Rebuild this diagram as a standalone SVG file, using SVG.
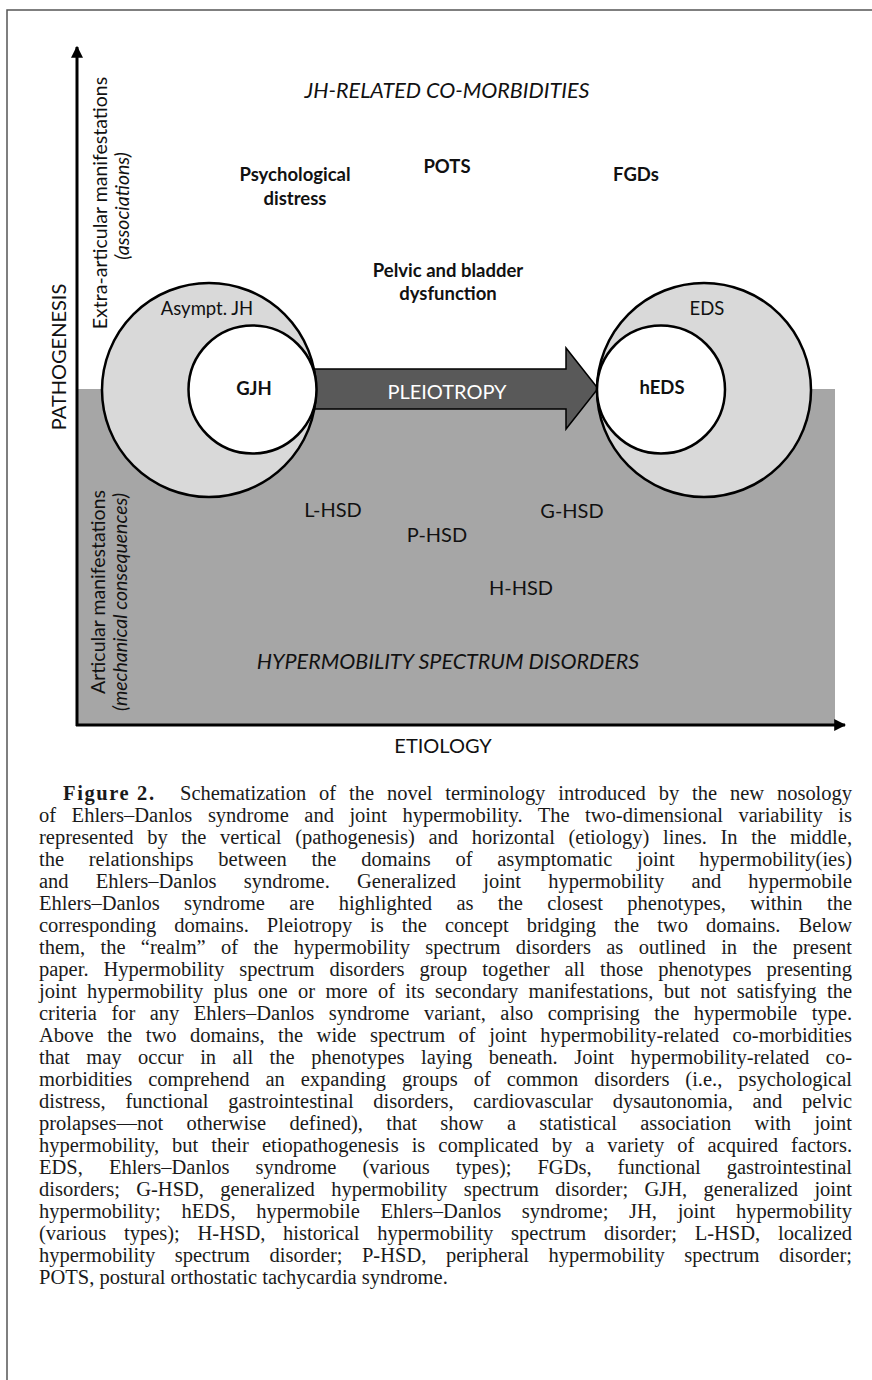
<svg xmlns="http://www.w3.org/2000/svg" width="872" height="1380" viewBox="0 0 872 1380">
<style>
.sans{font-family:Lato,"Open Sans","Liberation Sans",sans-serif;fill:#111}
.b{font-weight:bold}
.it{font-style:italic}
.cap{font-family:"Liberation Serif","Times New Roman",serif;font-size:20.5px;fill:#1a1a1a}
.outer{fill:#d9d9d9;stroke:#000;stroke-width:2.5}
.inner{fill:#fff;stroke:#000;stroke-width:2.5}
.axis{stroke:#000;stroke-width:3;fill:none}
</style>
<defs>
<marker id="ah" viewBox="0 0 10 10" refX="9" refY="5" markerWidth="4" markerHeight="4" orient="auto" markerUnits="strokeWidth">
<path d="M0,0 L10,5 L0,10 Z" fill="#000"/>
</marker>
</defs>
<rect x="7" y="10" width="900" height="1400" fill="#fff" stroke="#555" stroke-width="1.5"/>
<g id="hsd-area">
<rect x="77" y="389" width="758" height="336" fill="#a6a6a6"/>
</g>
<g id="connectors">
<path d="M300,369 L566,369 L566,348 L598,388.5 L566,429 L566,409 L300,409 Z" fill="#595959" stroke="#000" stroke-width="1.5"/>
<line class="axis" x1="77" y1="726" x2="77" y2="47" marker-end="url(#ah)"/>
<line class="axis" x1="76" y1="725" x2="845" y2="725" marker-end="url(#ah)"/>
</g>
<g id="pleiotropy-label">
<text class="sans" x="447" y="399" font-size="20" text-anchor="middle" style="fill:#fff">PLEIOTROPY</text>
</g>
<g id="asympt-jh">
<circle class="outer" cx="209" cy="390" r="107"/>
<text class="sans" x="207" y="315" font-size="18.5" text-anchor="middle">Asympt. JH</text>
</g>
<g id="gjh">
<circle class="inner" cx="252.5" cy="389.5" r="64"/>
<text class="sans b" x="254" y="395" font-size="18.5" text-anchor="middle">GJH</text>
</g>
<g id="eds">
<circle class="outer" cx="704" cy="390" r="107"/>
<text class="sans" x="707" y="315" font-size="18.5" text-anchor="middle">EDS</text>
</g>
<g id="heds">
<circle class="inner" cx="661" cy="389.5" r="64"/>
<text class="sans b" x="662" y="394" font-size="18.5" text-anchor="middle">hEDS</text>
</g>
<g id="comorbidities">
<text class="sans it" x="447" y="98" font-size="21.5" text-anchor="middle">JH-RELATED CO-MORBIDITIES</text>
<text class="sans b" x="295" y="181" font-size="18.5" text-anchor="middle">Psychological</text>
<text class="sans b" x="295" y="205" font-size="18.5" text-anchor="middle">distress</text>
<text class="sans b" x="447" y="173" font-size="18.5" text-anchor="middle">POTS</text>
<text class="sans b" x="636" y="181" font-size="18.5" text-anchor="middle">FGDs</text>
<text class="sans b" x="448" y="277" font-size="18.5" text-anchor="middle">Pelvic and bladder</text>
<text class="sans b" x="448" y="300" font-size="18.5" text-anchor="middle">dysfunction</text>
</g>
<g id="hsd-labels">
<text class="sans" x="333" y="517" font-size="20" text-anchor="middle">L-HSD</text>
<text class="sans" x="572" y="518" font-size="20" text-anchor="middle">G-HSD</text>
<text class="sans" x="437" y="542" font-size="20" text-anchor="middle">P-HSD</text>
<text class="sans" x="521" y="595" font-size="20" text-anchor="middle">H-HSD</text>
<text class="sans it" x="448" y="669" font-size="21.5" text-anchor="middle">HYPERMOBILITY SPECTRUM DISORDERS</text>
</g>
<g id="axis-labels">
<text class="sans" x="443" y="753" font-size="20" text-anchor="middle">ETIOLOGY</text>
<text class="sans" transform="translate(66,357) rotate(-90)" font-size="20" text-anchor="middle">PATHOGENESIS</text>
<text class="sans" transform="translate(107,203) rotate(-90)" font-size="19.5" text-anchor="middle">Extra-articular manifestations</text>
<text class="sans it" transform="translate(129,206) rotate(-90)" font-size="19.5" text-anchor="middle">(associations)</text>
<text class="sans" transform="translate(105,592) rotate(-90)" font-size="19.5" text-anchor="middle">Articular manifestations</text>
<text class="sans it" transform="translate(127,602) rotate(-90)" font-size="19.5" text-anchor="middle">(mechanical consequences)</text>
</g>
<g id="caption">
<text class="cap" x="63" y="800" font-weight="bold" font-size="23" textLength="91" lengthAdjust="spacing">Figure 2.</text>
<text class="cap" x="180" y="800" word-spacing="7.8" textLength="672" lengthAdjust="spacing">Schematization of the novel terminology introduced by the new nosology</text>
<text class="cap" x="39" y="822" word-spacing="10.4" textLength="813" lengthAdjust="spacing">of Ehlers–Danlos syndrome and joint hypermobility. The two-dimensional variability is</text>
<text class="cap" x="39" y="844" word-spacing="8.5" textLength="813" lengthAdjust="spacing">represented by the vertical (pathogenesis) and horizontal (etiology) lines. In the middle,</text>
<text class="cap" x="39" y="866" word-spacing="19.6" textLength="813" lengthAdjust="spacing">the relationships between the domains of asymptomatic joint hypermobility(ies)</text>
<text class="cap" x="39" y="888" word-spacing="22.1" textLength="813" lengthAdjust="spacing">and Ehlers–Danlos syndrome. Generalized joint hypermobility and hypermobile</text>
<text class="cap" x="39" y="910" word-spacing="19.2" textLength="813" lengthAdjust="spacing">Ehlers–Danlos syndrome are highlighted as the closest phenotypes, within the</text>
<text class="cap" x="39" y="932" word-spacing="12.9" textLength="813" lengthAdjust="spacing">corresponding domains. Pleiotropy is the concept bridging the two domains. Below</text>
<text class="cap" x="39" y="954" word-spacing="10.2" textLength="813" lengthAdjust="spacing">them, the “realm” of the hypermobility spectrum disorders as outlined in the present</text>
<text class="cap" x="39" y="976" word-spacing="9.8" textLength="813" lengthAdjust="spacing">paper. Hypermobility spectrum disorders group together all those phenotypes presenting</text>
<text class="cap" x="39" y="998" word-spacing="5.2" textLength="813" lengthAdjust="spacing">joint hypermobility plus one or more of its secondary manifestations, but not satisfying the</text>
<text class="cap" x="39" y="1020" word-spacing="9.4" textLength="813" lengthAdjust="spacing">criteria for any Ehlers–Danlos syndrome variant, also comprising the hypermobile type.</text>
<text class="cap" x="39" y="1042" word-spacing="8.4" textLength="813" lengthAdjust="spacing">Above the two domains, the wide spectrum of joint hypermobility-related co-morbidities</text>
<text class="cap" x="39" y="1064" word-spacing="11.4" textLength="813" lengthAdjust="spacing">that may occur in all the phenotypes laying beneath. Joint hypermobility-related co-</text>
<text class="cap" x="39" y="1086" word-spacing="10.8" textLength="813" lengthAdjust="spacing">morbidities comprehend an expanding groups of common disorders (i.e., psychological</text>
<text class="cap" x="39" y="1108" word-spacing="14.6" textLength="813" lengthAdjust="spacing">distress, functional gastrointestinal disorders, cardiovascular dysautonomia, and pelvic</text>
<text class="cap" x="39" y="1130" word-spacing="18.2" textLength="813" lengthAdjust="spacing">prolapses—not otherwise defined), that show a statistical association with joint</text>
<text class="cap" x="39" y="1152" word-spacing="7.9" textLength="813" lengthAdjust="spacing">hypermobility, but their etiopathogenesis is complicated by a variety of acquired factors.</text>
<text class="cap" x="39" y="1174" word-spacing="20.9" textLength="813" lengthAdjust="spacing">EDS, Ehlers–Danlos syndrome (various types); FGDs, functional gastrointestinal</text>
<text class="cap" x="39" y="1196" word-spacing="11.25" textLength="813" lengthAdjust="spacing">disorders; G-HSD, generalized hypermobility spectrum disorder; GJH, generalized joint</text>
<text class="cap" x="39" y="1218" word-spacing="15.6" textLength="813" lengthAdjust="spacing">hypermobility; hEDS, hypermobile Ehlers–Danlos syndrome; JH, joint hypermobility</text>
<text class="cap" x="39" y="1240" word-spacing="12.6" textLength="813" lengthAdjust="spacing">(various types); H-HSD, historical hypermobility spectrum disorder; L-HSD, localized</text>
<text class="cap" x="39" y="1262" word-spacing="14.4" textLength="813" lengthAdjust="spacing">hypermobility spectrum disorder; P-HSD, peripheral hypermobility spectrum disorder;</text>
<text class="cap" x="39" y="1284">POTS, postural orthostatic tachycardia syndrome.</text>
</g>
</svg>
